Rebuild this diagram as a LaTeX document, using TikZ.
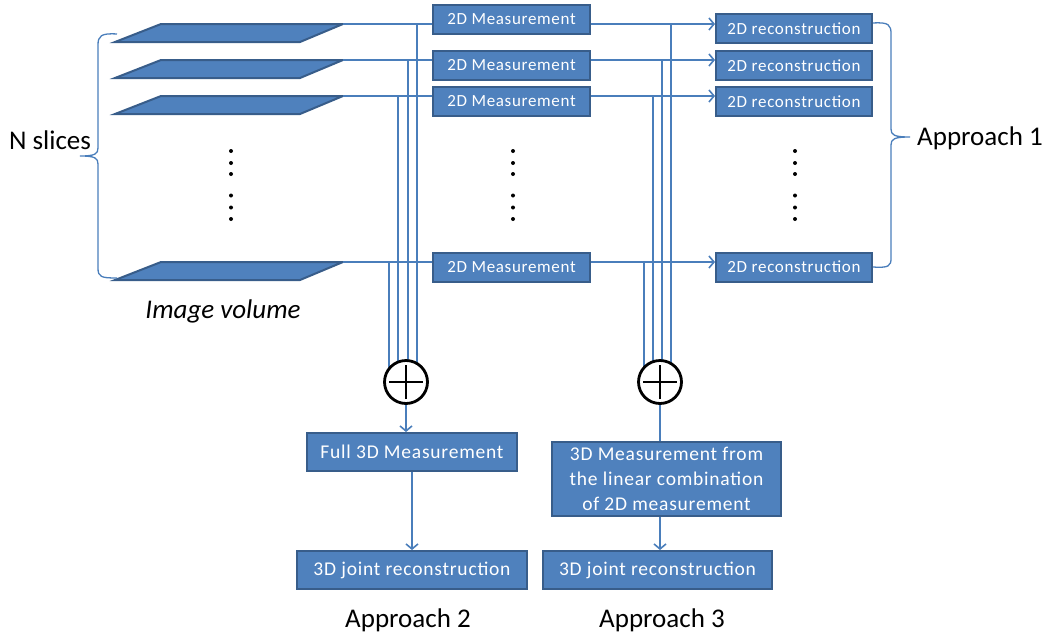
\documentclass[tikz,border=0pt]{standalone}
\usepackage{fontspec}
\setmainfont{Carlito}
\newfontfamily\boxfont[LetterSpace=4]{Carlito}
\usetikzlibrary{arrows.meta}
\definecolor{fillb}{HTML}{4F81BD}
\definecolor{edgeb}{HTML}{385D8A}
\definecolor{lineb}{HTML}{4A7EBB}
\tikzset{
  mbox/.style={draw=edgeb, line width=2pt, fill=fillb, text=white, minimum width=157pt, minimum height=29pt, inner sep=0pt, font=\boxfont\fontsize{17}{20}\selectfont},
  bigbox/.style={draw=edgeb, line width=2pt, fill=fillb, text=white, inner sep=0pt, align=center, font=\boxfont\fontsize{19.5}{25}\selectfont},
  conn/.style={draw=lineb, line width=1.6pt},
  arr/.style={conn, -{Straight Barb[length=5pt,width=12pt,line width=1.6pt]}},
  slice/.style={draw=edgeb, line width=2pt, fill=fillb, line join=miter},
  lbl/.style={font=\fontsize{27}{32}\selectfont, inner sep=0pt},
  oplus/.style={circle, draw=black, fill=white, line width=2.8pt, minimum size=43pt, inner sep=0pt,
    path picture={\draw[black, line width=2.8pt]
      ([xshift=-17pt]path picture bounding box.center) -- ([xshift=17pt]path picture bounding box.center)
      ([yshift=-17pt]path picture bounding box.center) -- ([yshift=17pt]path picture bounding box.center);}},
  dotm/.style={fill=black}
}
\begin{document}
\begin{tikzpicture}[x=1pt,y=-1pt]
\useasboundingbox (0,0) rectangle (1046,635);

% slices
\foreach \y/\n in {24/1,60/2,96/3,262/4}{
  \draw[slice] (161,\y) -- (343,\y) -- (300,\y+18) -- (115,\y+18) -- cycle;
  \coordinate (s\n) at (343,\y);
}

% 2D measurement boxes
\node[mbox] (m1) at (511.5,19.5) {2D Measurement};
\node[mbox] (m2) at (511.5,65.5) {2D Measurement};
\node[mbox] (m3) at (511.5,101.5) {2D Measurement};
\node[mbox] (m4) at (511.5,267) {2D Measurement};

% 2D reconstruction boxes
\node[mbox, minimum width=156pt] (r1) at (794,28.5) {2D reconstruction};
\node[mbox, minimum width=156pt] (r2) at (794,65.5) {2D reconstruction};
\node[mbox, minimum width=156pt] (r3) at (794,101.5) {2D reconstruction};
\node[mbox, minimum width=156pt] (r4) at (794,267) {2D reconstruction};

% circle centres
\coordinate (c2c) at (406,382);
\coordinate (c3c) at (660,382);

% slice -> measurement
\foreach \n in {1,2,3,4}{
  \draw[conn] (s\n) -- (s\n -| m\n.west);
}
% measurement -> reconstruction
\foreach \n in {1,2,3,4}{
  \draw[arr] (s\n -| m\n.east) -- (s\n -| r\n.west);
}

% junctions, left group
\coordinate (j1) at (417,24);
\coordinate (j2) at (408,60);
\coordinate (j3) at (398,96);
\coordinate (j4) at (389,262);
% junctions, right group
\coordinate (k1) at (671,24);
\coordinate (k2) at (662,60);
\coordinate (k3) at (653,96);
\coordinate (k4) at (644,262);
\foreach \n in {1,2,3,4}{
  \draw[conn] (j\n) -- (j\n |- c2c);
  \draw[conn] (k\n) -- (k\n |- c3c);
}

% sum circles
\node[oplus] (c2) at (c2c) {};
\node[oplus] (c3) at (c3c) {};

% lower boxes
\node[bigbox, minimum width=210pt, minimum height=38pt] (f3) at (412,452) {Full 3D Measurement};
\node[bigbox, minimum width=230pt, minimum height=38pt] (j2b) at (412,570) {3D joint reconstruction};
\node[bigbox, minimum width=229pt, minimum height=74pt] (l3) at (666.5,479) {3D Measurement from\\the linear combination\\of 2D measurement};
\node[bigbox, minimum width=229pt, minimum height=38pt] (j3b) at (657.5,570) {3D joint reconstruction};

\draw[arr] (c2.south) -- (c2.south |- f3.north);
\draw[arr] (f3.south) -- (f3.south |- j2b.north);
\draw[conn] (c3.south) -- (c3.south |- l3.north);
\draw[arr] (c3 |- l3.south) -- (c3 |- j3b.north);

% dots
\foreach \x in {231,513,795}{
  \foreach \y in {151,163,174,195.5,207.5,219}{
    \fill[dotm] (\x,\y) circle (2pt);
  }
}

% braces
\draw[conn, line width=1.3pt] (117,34) .. controls (101,33) and (98,36) .. (98,45) -- (98,148)
  .. controls (98,154) and (95,156) .. (80,156) .. controls (95,156) and (98,158) .. (98,164)
  -- (98,268) .. controls (98,277) and (101,278) .. (117,278);
\draw[conn, line width=1.3pt] (873,23) .. controls (889,22) and (891,25) .. (891,34) -- (891,129)
  .. controls (891,135) and (894,137) .. (910,137) .. controls (894,137) and (891,139) .. (891,145)
  -- (891,258) .. controls (891,266) and (889,268) .. (873,267);

% labels
\node[lbl] (nsl) at (50,140) {N slices};
\node[lbl] (ap1) at (980,138) {Approach 1};
\node[lbl, font=\itshape\fontsize{27}{32}\selectfont] (iv) at (223,311) {Image volume};
\node[lbl] (ap2) at (408,620) {Approach 2};
\node[lbl] (ap3) at (662,620) {Approach 3};
\end{tikzpicture}
\end{document}
